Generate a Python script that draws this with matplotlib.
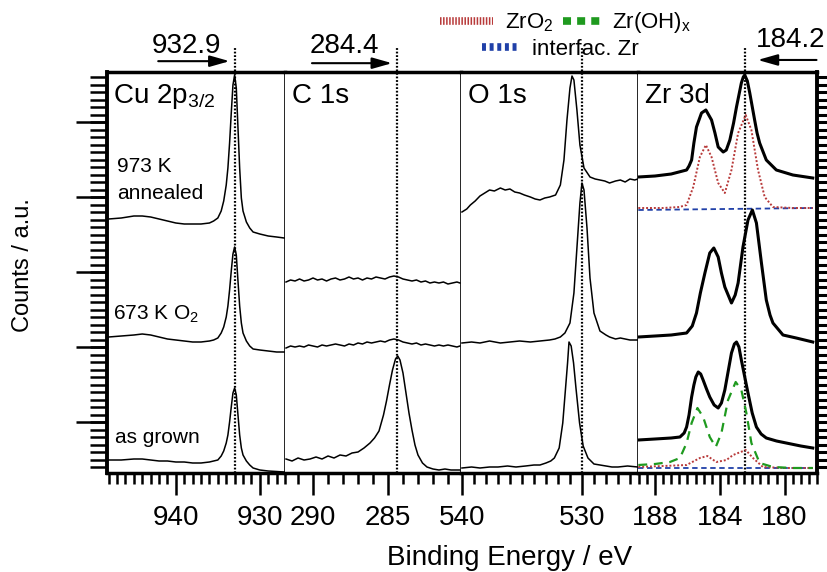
import numpy as np
import matplotlib
matplotlib.use('Agg')
import matplotlib.pyplot as plt
from matplotlib.lines import Line2D
from matplotlib.markers import TICKLEFT, TICKRIGHT
from matplotlib.ticker import MultipleLocator, NullLocator

plt.rcParams.update({'font.family': 'Liberation Sans', 'mathtext.default': 'regular', 'font.size': 20})

# ---------------- Cu 2p3/2 ----------------
cu_be = [948.0, 946.5, 945.0, 944.0, 943.0, 942.0, 941.0, 940.0, 939.0, 938.0, 937.0, 936.0, 935.5, 935.0,
         934.6, 934.3, 934.0, 933.8, 933.6, 933.4, 933.2, 933.0, 932.8, 932.6, 932.4, 932.2, 932.0, 931.6,
         931.2, 930.8, 930.0, 929.0, 928.0, 927.1]
cu_annealed = [254, 255, 257, 257, 256, 254, 252, 250, 249, 249, 249, 250, 252, 255,
               262, 272, 288, 305, 330, 360, 388, 398, 385, 345, 305, 275, 262, 251,
               245, 241, 239, 237, 236, 235]
cu_o2 = [136, 137, 138, 139, 138, 136, 134, 133, 132, 131, 131, 132, 133, 135,
         140, 146, 156, 167, 183, 202, 219, 226, 218, 192, 167, 150, 140, 132,
         127, 124, 123, 122, 121, 121]
cu_grown = [13, 13, 14, 14, 13, 12, 12, 11, 11, 10, 10, 11, 12, 13,
            17, 22, 30, 38, 51, 66, 80, 85, 78, 58, 38, 25, 18, 12,
            8, 5, 3, 2, 1.5, 1]

# ---------------- C 1s ----------------
c_be = [291.8, 291.5, 291.2, 290.9, 290.6, 290.3, 290.0, 289.7, 289.4, 289.1, 288.8, 288.5, 288.2, 287.9,
        287.6, 287.3, 287.0, 286.7, 286.4, 286.1, 285.8, 285.5, 285.2, 284.9, 284.6, 284.3, 284.0, 283.7,
        283.4, 283.1, 282.8, 282.5, 282.2, 281.9, 281.6, 281.3, 281.0, 280.7, 280.4, 280.2]
c_annealed = [191, 193, 192, 194, 192, 193, 195, 193, 194, 192, 194, 195, 193, 194,
              196, 194, 195, 193, 195, 194, 196, 195, 194, 196, 197, 196, 194, 193,
              192, 193, 191, 192, 190, 191, 190, 191, 189, 190, 191, 190]
c_o2 = [125, 127, 126, 127, 126, 128, 127, 126, 128, 127, 128, 129, 128, 127,
        129, 128, 130, 129, 131, 130, 131, 132, 131, 133, 134, 133, 131, 130,
        129, 130, 128, 129, 128, 127, 128, 127, 128, 127, 126, 127]
c_grown_be = [291.8, 291.4, 291.0, 290.6, 290.2, 289.8, 289.4, 289.0, 288.6, 288.2, 287.8, 287.4, 287.0,
              286.6, 286.2, 285.9, 285.6, 285.3, 285.1, 284.9, 284.7, 284.5, 284.35, 284.2, 284.0, 283.8,
              283.6, 283.4, 283.2, 283.0, 282.7, 282.4, 282.0, 281.6, 281.2, 280.8, 280.4, 280.2]
c_grown = [14, 12, 15, 13, 14, 16, 14, 17, 15, 18, 17, 20, 21,
           25, 30, 35, 42, 58, 72, 88, 103, 114, 117, 113, 100, 80,
           60, 43, 28, 18, 10, 6, 4, 3, 4, 3, 3, 3]

# ---------------- O 1s ----------------
o_ann_be = [540.0, 539.6, 539.3, 538.9, 538.5, 538.1, 537.7, 537.3, 536.8, 536.4, 536.0, 535.6, 535.2,
            534.8, 534.3, 533.9, 533.5, 533.1, 532.7, 532.2, 531.8, 531.5, 531.25, 531.0, 530.83, 530.67,
            530.42, 530.17, 529.83, 529.33, 528.9, 528.5, 528.1, 527.7, 527.2, 526.8, 526.4, 526.0, 525.6,
            525.35]
o_annealed = [261, 264, 268, 272, 277, 280, 283, 282, 285, 283, 284, 281, 280,
              278, 276, 274, 273, 275, 276, 278, 288, 313, 353, 385, 397, 393,
              363, 328, 305, 296, 294, 293, 292, 290, 292, 293, 291, 294, 293,
              294]
o_o2_be = [540.0, 539.2, 538.5, 537.7, 536.8, 536.0, 535.2, 534.3, 533.5, 532.7, 532.25, 531.8, 531.42,
           531.0, 530.67, 530.42, 530.17, 530.0, 529.83, 529.58, 529.33, 529.0, 528.5, 528.0, 527.7,
           527.2, 526.8, 526.0, 525.35]
o_o2 = [130, 131, 130, 132, 130, 131, 132, 131, 132, 133, 134, 136, 140,
        150, 180, 225, 270, 290, 283, 245, 195, 160, 142, 138, 136,
        134, 135, 133, 133]
o_grown_be = [540.0, 539.2, 538.5, 537.7, 537.0, 536.2, 535.5, 534.7, 534.0, 533.5, 533.0, 532.6, 532.3,
              531.9, 531.6, 531.4, 531.2, 531.08, 530.9, 530.7, 530.5, 530.2, 529.9, 529.5, 529.0,
              528.5, 528.0, 527.5, 527.0, 526.2, 525.35]
o_grown = [5, 6, 5, 6, 6, 7, 6, 7, 8, 8, 10, 12, 15,
           25, 50, 80, 110, 131, 127, 110, 85, 50, 27, 15, 9,
           8, 7, 6, 6, 7, 6]

# ---------------- Zr 3d ----------------
zr_ann_be = [189.03, 188.0, 187.0, 186.05, 185.9, 185.74, 185.6, 185.44, 185.13, 184.86, 184.51, 184.3,
             184.10, 183.79, 183.6, 183.38, 183.15, 182.97, 182.67, 182.55, 182.46, 182.3, 182.15, 181.85,
             181.7, 181.54, 181.3, 181.13, 180.51, 179.49, 178.26]
zr_annealed = [296, 297, 299, 303, 307, 313, 330, 346, 360, 363, 353, 340,
               326, 321, 323, 333, 350, 366, 390, 396, 398, 392, 380, 353,
               340, 330, 320, 313, 303, 298, 295]
zro2_ann_be = [189.03, 187.5, 186.5, 186.05, 185.64, 185.23, 184.86, 184.51, 184.10, 183.69, 183.28, 182.87,
               182.40, 182.05, 181.64, 181.23, 180.72, 179.5, 178.26]
zro2_annealed = [265, 265, 266, 268, 286, 316, 328, 316, 290, 280, 303, 340,
                 358, 343, 303, 276, 266, 265, 265]
intf_ann_be = [189.03, 178.26]
intf_annealed = [263, 265]

zr_o2_be = [189.03, 188.0, 187.0, 186.05, 185.7, 185.44, 185.2, 184.92, 184.62, 184.37, 184.10, 183.9,
            183.69, 183.28, 183.05, 182.87, 182.57, 182.26, 181.99, 181.74, 181.6, 181.43, 181.13, 180.9,
            180.72, 180.10, 179.28, 178.26]
zr_o2 = [136, 137, 138, 140, 147, 160, 180, 200, 220, 225, 216, 200,
         186, 170, 178, 190, 226, 253, 263, 250, 232, 210, 173, 158,
         150, 138, 135, 131]

zr_grown_be = [189.03, 188.0, 187.0, 186.46, 186.2, 186.05, 185.9, 185.74, 185.6, 185.48, 185.33, 185.18,
               185.03, 184.82, 184.62, 184.35, 184.10, 183.9, 183.69, 183.48, 183.28, 183.1, 182.97, 182.82,
               182.67, 182.46, 182.26, 182.0, 181.74, 181.45, 181.13, 180.5, 179.90, 179.0, 178.26]
zr_grown = [33, 34, 35, 36, 40, 46, 58, 76, 88, 96, 101, 99,
            93, 84, 76, 68, 65, 70, 83, 102, 120, 129, 131, 126,
            113, 96, 80, 60, 46, 39, 35, 32, 30, 27, 25]
oh_grown_be = [189.03, 188.0, 187.08, 186.46, 186.05, 185.74, 185.38, 185.03, 184.62, 184.25, 183.90, 183.49,
               183.02, 182.67, 182.36, 182.05, 181.54, 180.72, 179.5, 178.26]
oh_grown = [8, 9, 11, 15, 30, 50, 65, 56, 36, 26, 40, 73,
            91, 83, 60, 30, 10, 6, 5, 5]
zro2_grown_be = [189.03, 187.5, 186.05, 185.23, 184.77, 184.21, 183.59, 183.18, 182.40, 181.95, 181.34,
                 180.0, 178.26]
zro2_grown = [6, 7, 8, 15, 17, 11, 13, 18, 23, 15, 6, 5, 5]
intf_grown_be = [189.03, 178.26]
intf_grown = [5, 5]

panels = ['Cu 2p$_{3/2}$', 'C 1s', 'O 1s', 'Zr 3d']
xlims = [(948.2, 927.0), (291.87, 280.13), (540.08, 525.33), (189.05, 178.0)]
major_ticks = [[940, 930], [290, 285], [540, 530], [188, 184, 180]]
minor_step = [1, 1, 1, 0.5]
ref_lines = [932.9, 284.4, 530.0, 182.45]
ref_labels = ['932.9', '284.4', None, '184.2']
samples = ['973 K', 'annealed', '673 K O$_2$', 'as grown']
y_major = np.arange(51, 401, 75)
y_minor = np.arange(6, 401, 7.5)

c_zro2 = '#b83a3a'
c_oh = '#1f9a1f'
c_intf = '#2040a8'

W, H = 828, 572
edges = [107, 285, 461, 638, 817]
fig = plt.figure(figsize=(W / 100, H / 100), dpi=100)
axes = []
for i in range(4):
    ax = fig.add_axes([edges[i] / W, 1 - 473 / H, (edges[i + 1] - edges[i]) / W, 401 / H])
    ax.set_xlim(*xlims[i])
    ax.set_ylim(0, 401)
    ax.set_xticks(major_ticks[i], [str(t) for t in major_ticks[i]])
    ax.xaxis.set_minor_locator(MultipleLocator(minor_step[i]))
    ax.yaxis.set_major_locator(NullLocator())
    ax.yaxis.set_minor_locator(NullLocator())
    ax.tick_params(axis='x', which='major', direction='out', length=16, width=1.8, pad=7, labelsize=20)
    ax.tick_params(axis='x', which='minor', direction='out', length=8, width=1.8)
    for s in ['top', 'bottom']:
        ax.spines[s].set_linewidth(2.5)
    ax.spines['left'].set_visible(i == 0)
    ax.spines['right'].set_linewidth(1.2)
    ax.text(0.04 if i else 0.034, 0.923, panels[i], transform=ax.transAxes, fontsize=20, va='baseline')
    ax.axvline(ref_lines[i], ymin=0, ymax=1.06, color='k', ls=(0, (0.8, 0.8)), lw=1.6, clip_on=False, zorder=1)
    axes.append(ax)

ax_cu, ax_c, ax_o, ax_zr = axes
ax_cu.spines['left'].set_linewidth(2.8)
ax_zr.spines['right'].set_linewidth(2.8)

# y-axis tick marks (left comb on the Cu panel, right comb on the Zr panel)
ax_cu.plot(np.zeros_like(y_minor), y_minor, ls='none', marker=TICKLEFT, ms=12, mew=1.8, color='k',
           transform=ax_cu.get_yaxis_transform(), clip_on=False)
ax_cu.plot(np.zeros_like(y_major), y_major, ls='none', marker=TICKLEFT, ms=22, mew=1.8, color='k',
           transform=ax_cu.get_yaxis_transform(), clip_on=False)
ax_zr.plot(np.ones_like(y_minor), y_minor, ls='none', marker=TICKRIGHT, ms=14, mew=2.2, color='k',
           transform=ax_zr.get_yaxis_transform(), clip_on=False)

# spectra
lw_thin = 1.1
ax_cu.plot(cu_be, cu_annealed, color='k', lw=lw_thin)
ax_cu.plot(cu_be, cu_o2, color='k', lw=lw_thin)
ax_cu.plot(cu_be, cu_grown, color='k', lw=lw_thin)

ax_c.plot(c_be, c_annealed, color='k', lw=lw_thin)
ax_c.plot(c_be, c_o2, color='k', lw=lw_thin)
ax_c.plot(c_grown_be, c_grown, color='k', lw=lw_thin)

ax_o.plot(o_ann_be, o_annealed, color='k', lw=lw_thin)
ax_o.plot(o_o2_be, o_o2, color='k', lw=lw_thin)
ax_o.plot(o_grown_be, o_grown, color='k', lw=lw_thin)

ax_zr.plot(intf_ann_be, intf_annealed, color=c_intf, lw=1.3, ls=(0, (3, 2)))
ax_zr.plot(zro2_ann_be, zro2_annealed, color=c_zro2, lw=1.4, ls=(0, (1, 1)))
ax_zr.plot(zr_ann_be, zr_annealed, color='k', lw=2.2)
ax_zr.plot(zr_o2_be, zr_o2, color='k', lw=2.2)
ax_zr.plot(intf_grown_be, intf_grown, color=c_intf, lw=1.3, ls=(0, (3, 2)))
ax_zr.plot(zro2_grown_be, zro2_grown, color=c_zro2, lw=1.4, ls=(0, (1, 1)))
ax_zr.plot(oh_grown_be, oh_grown, color=c_oh, lw=1.6, ls=(0, (4, 3)))
ax_zr.plot(zr_grown_be, zr_grown, color='k', lw=2.2)

# sample labels
ax_cu.text(0.056, 0.75, samples[0], transform=ax_cu.transAxes, fontsize=15, va='baseline')
ax_cu.text(0.056, 0.683, samples[1], transform=ax_cu.transAxes, fontsize=15, va='baseline')
ax_cu.text(0.034, 0.382, samples[2], transform=ax_cu.transAxes, fontsize=15, va='baseline')
ax_cu.text(0.045, 0.075, samples[3], transform=ax_cu.transAxes, fontsize=15, va='baseline')

# reference arrows and values
arrow = dict(arrowstyle='-|>,head_length=0.6,head_width=0.17', color='k', lw=1.5,
             shrinkA=0, shrinkB=0, mutation_scale=20)
ax_cu.annotate('', xy=(933.6, 1.027), xycoords=('data', 'axes fraction'), xytext=(942.1, 1.027),
               textcoords=('data', 'axes fraction'), arrowprops=arrow, annotation_clip=False)
ax_cu.text(938.7, 1.047, ref_labels[0], transform=ax_cu.get_xaxis_transform(), ha='center', va='baseline', fontsize=20)
ax_c.annotate('', xy=(284.73, 1.022), xycoords=('data', 'axes fraction'), xytext=(290.07, 1.022),
              textcoords=('data', 'axes fraction'), arrowprops=arrow, annotation_clip=False)
ax_c.text(287.9, 1.047, ref_labels[1], transform=ax_c.get_xaxis_transform(), ha='center', va='baseline', fontsize=20)
ax_zr.annotate('', xy=(181.66, 1.03), xycoords=('data', 'axes fraction'), xytext=(178.03, 1.03),
               textcoords=('data', 'axes fraction'), arrowprops=arrow, annotation_clip=False)
ax_zr.text(181.8, 1.062, ref_labels[3], transform=ax_zr.get_xaxis_transform(), ha='left', va='baseline', fontsize=20)

# legend, one entry each so every sample keeps its own length
leg_kw = dict(loc='center left', frameon=False, fontsize=16, borderpad=0.4, borderaxespad=0, handletextpad=0.55)
h_zro2 = Line2D([], [], color=c_zro2, lw=5.5, ls=(0, (0.2, 0.2)))
h_oh = Line2D([], [], color=c_oh, lw=5.5, ls=(0, (1.05, 0.8)))
h_intf = Line2D([], [], color=c_intf, lw=5.5, ls=(0, (0.52, 0.48)))
fig.legend([h_zro2], ['ZrO$_2$'], bbox_to_anchor=(0.5205, 0.96), handlelength=2.4, **leg_kw)
fig.legend([h_oh], ['Zr(OH)$_x$'], bbox_to_anchor=(0.669, 0.96), handlelength=1.67, **leg_kw)
fig.legend([h_intf], ['interfac. Zr'], bbox_to_anchor=(0.571, 0.913), handlelength=1.7, **leg_kw)

fig.text(0.615, 0.012, 'Binding Energy / eV', ha='center', va='baseline', fontsize=20)
fig.text(0.028, 0.537, 'Counts / a.u.', rotation=90, ha='center', va='center', fontsize=17)

fig.savefig('out.png', dpi=100)
